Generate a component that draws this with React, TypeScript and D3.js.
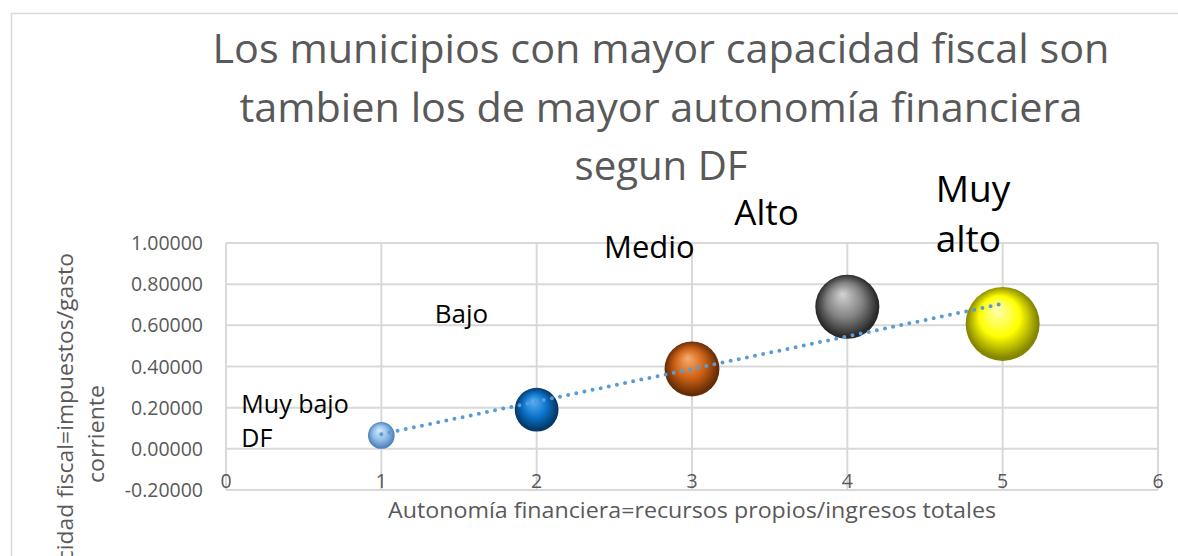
import React from "react";
import * as d3 from "d3";

// ---- data ----
const categories = ["Muy bajo DF", "Bajo", "Medio", "Alto", "Muy alto"];
const xValues = [1, 2, 3, 4, 5];
const yValues = [0.065, 0.19, 0.388, 0.69, 0.607];
const bubbleSizes = [13, 35, 55, 75, 100];
const xTicks = [0, 1, 2, 3, 4, 5, 6];
const yTicks = [-0.2, 0, 0.2, 0.4, 0.6, 0.8, 1.0];
const titleLines = [
  "Los municipios con mayor capacidad fiscal son",
  "tambien los de mayor autonomía financiera",
  "segun DF",
];
const xAxisTitle = "Autonomía financiera=recursos propios/ingresos totales";
const yAxisTitleLines = ["Capacidad fiscal=impuestos/gasto", "corriente"];
const labelLines = [["Muy bajo", "DF"], ["Bajo"], ["Medio"], ["Alto"], ["Muy", "alto"]];

// bubble colours: [highlight, mid, dark]
const bubbleColors = [
  ["#dbeafa", "#93bfea", "#5283bb"],
  ["#5ab2f7", "#0b72c8", "#053866"],
  ["#f8ad6c", "#cc6117", "#652c05"],
  ["#d4d4d4", "#828282", "#2a2a2a"],
  ["#ffffb8", "#ffff00", "#858500"],
];

const W = 1178;
const H = 556;
const FONT = "'Open Sans', 'Liberation Sans', sans-serif";

export default function App() {
  const x = d3.scaleLinear().domain([0, 6]).range([226, 1158]);
  const y = d3.scaleLinear().domain([-0.2, 1.0]).range([490, 243]);
  const r = d3.scaleSqrt().domain([0, 100]).range([0, 37]);

  // linear trend line
  const xm = d3.mean(xValues) as number;
  const ym = d3.mean(yValues) as number;
  let num = 0, den = 0;
  xValues.forEach((xv, i) => {
    num += (xv - xm) * (yValues[i] - ym);
    den += (xv - xm) * (xv - xm);
  });
  const slope = num / den;
  const intercept = ym - slope * xm;
  const trendX = [xValues[0], xValues[xValues.length - 1]];
  const trendLine = d3
    .line<number>()
    .x((d) => x(d))
    .y((d) => y(intercept + slope * d))(trendX) as string;

  // label layout (offsets relative to bubble centre)
  const labelLayout = [
    { dx: -140, baseline: 413, size: 25, lh: 34 },
    { dx: -102, baseline: 323, size: 26, lh: 34 },
    { dx: -88, baseline: 258, size: 31, lh: 40 },
    { dx: -113, baseline: 225, size: 35, lh: 45 },
    { dx: -67, baseline: 202, size: 37, lh: 50 },
  ];

  const titleWidths = [897, 843, 173];
  const titleBase = [63, 122, 180];
  const yTitleWidths = [362, 98];

  return (
    <svg
      width={W}
      height={H}
      style={{ position: "absolute", left: 0, top: 0, display: "block", background: "#fff" }}
      fontFamily={FONT}
    >
      <defs>
        {bubbleColors.map((c, i) => (
          <radialGradient key={i} id={`bg${i}`} cx="0.5" cy="0.5" r="0.55" fx="0.42" fy="0.3">
            <stop offset="0" stopColor={c[0]} />
            <stop offset="0.5" stopColor={c[1]} />
            <stop offset="0.88" stopColor={c[2]} />
            <stop offset="1" stopColor={c[2]} />
          </radialGradient>
        ))}
      </defs>
      <rect x={0} y={0} width={W} height={H} fill="#fff" />
      {/* chart border */}
      <rect x={11.5} y={13.5} width={W + 20} height={H + 20} fill="#fff" stroke="#d9d9d9" strokeWidth={1.5} />

      {/* title */}
      {titleLines.map((t, i) => (
        <text
          key={i}
          x={661}
          y={titleBase[i]}
          textAnchor="middle"
          fontSize={40}
          fill="#595959"
          textLength={titleWidths[i]}
          lengthAdjust="spacingAndGlyphs"
        >
          {t}
        </text>
      ))}

      {/* gridlines */}
      {yTicks.map((t) => (
        <line key={`hy${t}`} x1={x(0)} x2={x(6)} y1={y(t)} y2={y(t)} stroke="#d9d9d9" strokeWidth={2} />
      ))}
      {xTicks.map((t) => (
        <line key={`vx${t}`} x1={x(t)} x2={x(t)} y1={y(1.0)} y2={y(-0.2)} stroke="#d9d9d9" strokeWidth={2} />
      ))}

      {/* y tick labels */}
      {yTicks.map((t) => (
        <text key={`yl${t}`} x={203} y={y(t)} dy="0.36em" textAnchor="end" fontSize={19.5} fill="#595959">
          {t.toFixed(5)}
        </text>
      ))}
      {/* x tick labels */}
      {xTicks.map((t) => (
        <text key={`xl${t}`} x={x(t)} y={488} textAnchor="middle" fontSize={19.5} fill="#595959">
          {t}
        </text>
      ))}

      {/* axis titles */}
      <text x={692} y={518} textAnchor="middle" fontSize={21} fill="#595959" textLength={608} lengthAdjust="spacingAndGlyphs">
        {xAxisTitle}
      </text>
      {yAxisTitleLines.map((t, i) => (
        <text
          key={`yt${i}`}
          transform={`translate(${i === 0 ? 73 : 104},434) rotate(-90)`}
          textAnchor="middle"
          fontSize={22}
          fill="#595959"
          textLength={yTitleWidths[i]}
          lengthAdjust="spacingAndGlyphs"
        >
          {t}
        </text>
      ))}

      {/* bubbles */}
      {xValues.map((xv, i) => (
        <circle key={`b${i}`} cx={x(xv)} cy={y(yValues[i])} r={r(bubbleSizes[i])} fill={`url(#bg${i})`} />
      ))}

      {/* trend line */}
      <path
        d={trendLine}
        fill="none"
        stroke="#5b9bd5"
        strokeWidth={4}
        strokeLinecap="round"
        strokeDasharray="0 8.3"
      />

      {/* data labels */}
      {categories.map((c, i) => {
        const L = labelLayout[i];
        return (
          <text key={`lab${i}`} fontSize={L.size} fill="#000">
            {labelLines[i].map((ln, j) => (
              <tspan key={j} x={x(xValues[i]) + L.dx} y={L.baseline + j * L.lh}>
                {ln}
              </tspan>
            ))}
          </text>
        );
      })}
    </svg>
  );
}
